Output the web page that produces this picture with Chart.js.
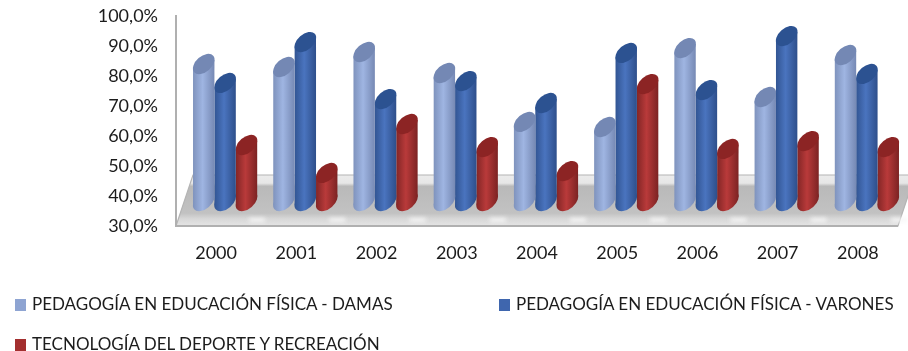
<!DOCTYPE html>
<html>
<head>
<meta charset="utf-8">
<title>Pedagogía y Tecnología del Deporte</title>
<script src="https://cdn.jsdelivr.net/npm/chart.js@4"></script>
<style>
    body { margin: 0; background: #fff; width: 908px; height: 351px; overflow: hidden; position: relative; }
    canvas { position: absolute; left: 0; top: 0; }
    .item { position: absolute; font: 17px Lato, sans-serif; color: #1c1c1c; white-space: nowrap; line-height: 20px; }
    .item i { position: absolute; left: -17px; top: 5px; width: 11px; height: 12px; }
</style>
</head>
<body>
<canvas id="grafico" width="908" height="351"></canvas>
<div class="item" id="leg0" style="left:32px;top:294px"><i></i></div>
<div class="item" id="leg1" style="left:516px;top:294px"><i></i></div>
<div class="item" id="leg2" style="left:32px;top:334px"><i></i></div>
<script>
const anios = ["2000", "2001", "2002", "2003", "2004", "2005", "2006", "2007", "2008"];
const damas = [84.0, 83.0, 88.0, 81.0, 64.7, 63.0, 89.3, 73.0, 87.0];
const varones = [77.7, 91.3, 72.3, 78.3, 71.0, 87.7, 75.3, 93.3, 80.7];
const tecnologia = [57.0, 47.7, 64.0, 56.3, 48.3, 77.3, 55.7, 58.3, 56.3];
const nombres = [
    "PEDAGOGÍA EN EDUCACIÓN FÍSICA - DAMAS",
    "PEDAGOGÍA EN EDUCACIÓN FÍSICA - VARONES",
    "TECNOLOGÍA DEL DEPORTE Y RECREACIÓN"
];
const colores = ["#8ea4d2", "#3f66ae", "#a32f2f"];
// claro, medio, oscuro, tapa
const tonos = [
    ["#7f93bd", "#9fb5e2", "#7689b4", "#7488b4"],
    ["#325593", "#4a74bf", "#2e4f8b", "#2c5291"],
    ["#832626", "#b93a3a", "#7c2323", "#8c2424"]
];

// la base de los cilindros esta por encima del 30% (vista 3D)
const BASE = 38.3;
const PROF_X = 17, PROF_Y = 51;   // profundidad del piso
const DESPLAZA = 9;               // cilindros corridos respecto a la etiqueta

nombres.forEach((n, i) => {
    const el = document.getElementById("leg" + i);
    el.appendChild(document.createTextNode(n));
    el.querySelector("i").style.background = colores[i];
});

function elipse(ctx, x, y) {
    ctx.beginPath();
    ctx.ellipse(x, y, 12.6, 7.8, -41 * Math.PI / 180, 0, Math.PI * 2);
    ctx.fill();
}

const piso3d = {
    id: "piso3d",
    beforeDatasetsDraw(chart) {
        const { ctx, chartArea: a } = chart;
        const xb = a.left + PROF_X, yb = a.bottom - PROF_Y;
        ctx.save();
        const g = ctx.createLinearGradient(0, yb, 0, a.bottom);
        g.addColorStop(0, "#ececec");
        g.addColorStop(0.16, "#e6e6e6");
        g.addColorStop(0.22, "#b9b9b9");
        g.addColorStop(0.75, "#c2c2c2");
        g.addColorStop(0.86, "#d8d8d8");
        g.addColorStop(1, "#e4e4e4");
        ctx.fillStyle = g;
        ctx.beginPath();
        ctx.moveTo(a.left, a.bottom);
        ctx.lineTo(xb, yb);
        ctx.lineTo(a.right + PROF_X, yb);
        ctx.lineTo(a.right, a.bottom);
        ctx.closePath();
        ctx.fill();
        ctx.strokeStyle = "#b4b4b4";
        ctx.lineWidth = 1.2;
        ctx.stroke();
        // manchas claras del frente del piso, una por categoria
        ctx.filter = "blur(2px)";
        ctx.fillStyle = "#f6f6f6";
        anios.forEach((_, i) => {
            const x = chart.scales.x.getPixelForValue(i) + 41;
            ctx.fillRect(x - 8, a.bottom - 8, 16, 4);
        });
        ctx.filter = "none";
        // eje vertical y frente del piso
        ctx.strokeStyle = "#b0b0b0";
        ctx.lineWidth = 2;
        ctx.beginPath();
        ctx.moveTo(a.left, a.top - 1);
        ctx.lineTo(a.left, a.bottom);
        ctx.lineTo(a.right, a.bottom);
        ctx.stroke();
        ctx.restore();
    },
    beforeDatasetDraw(chart, args) {
        const { ctx } = chart;
        const t = tonos[args.index];
        const meta = args.meta;
        ctx.save();
        meta.data.forEach(el => {
            const x = el.x + DESPLAZA, hw = el.width / 2;
            const yT = el.y, yB = el.base, d = 4.3;
            const g = ctx.createLinearGradient(x - hw, 0, x + hw, 0);
            g.addColorStop(0, t[0]);
            g.addColorStop(0.45, t[1]);
            g.addColorStop(1, t[2]);
            ctx.fillStyle = g;
            ctx.beginPath();
            ctx.moveTo(x - hw, yT + d);
            ctx.lineTo(x - hw, yB + d);
            ctx.lineTo(x + hw, yB - d);
            ctx.lineTo(x + hw, yT - d);
            ctx.closePath();
            ctx.fill();
            elipse(ctx, x, yB);
            ctx.fillStyle = t[3];
            elipse(ctx, x, yT);
        });
        ctx.restore();
        return false;
    }
};

new Chart(document.getElementById("grafico").getContext("2d"), {
    type: "bar",
    data: {
        labels: anios,
        datasets: [damas, varones, tecnologia].map((d, i) => ({
            label: nombres[i],
            data: d,
            base: BASE,
            backgroundColor: colores[i],
            borderWidth: 0,
            categoryPercentage: 0.8,
            barPercentage: 1
        }))
    },
    options: {
        responsive: false,
        animation: false,
        layout: { padding: { top: 16, right: 10, bottom: 0, left: 0 } },
        plugins: { legend: { display: false }, tooltip: { enabled: false } },
        scales: {
            x: {
                grid: { display: false },
                border: { display: false },
                ticks: { color: "#1c1c1c", padding: 8, maxRotation: 0, font: { family: "Lato", size: 18 } },
                afterFit: s => { s.height = 125; }
            },
            y: {
                min: 30,
                max: 100,
                grid: { display: false },
                border: { display: false },
                ticks: {
                    stepSize: 10,
                    color: "#1c1c1c",
                    padding: 10,
                    font: { family: "Lato", size: 18 },
                    callback: v => v.toFixed(1).replace(".", ",") + "%"
                },
                afterFit: s => { s.width = 176; s.paddingTop = 0; s.paddingBottom = 0; }
            }
        }
    },
    plugins: [piso3d]
});
</script>
</body>
</html>
